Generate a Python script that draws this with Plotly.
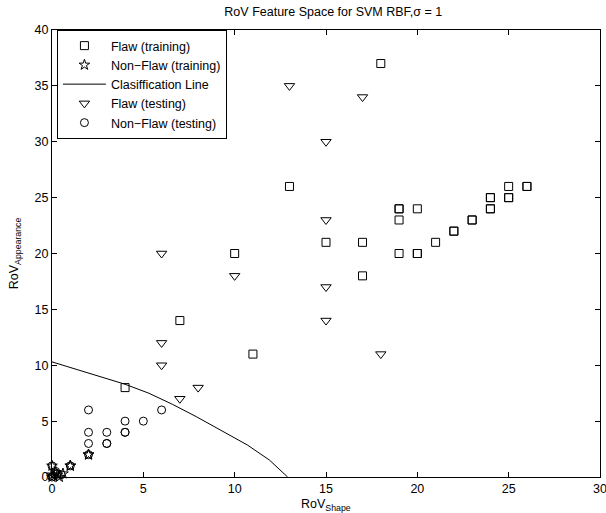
import plotly.graph_objects as go

# Flaw (training) - squares
flaw_train_x = [18, 13, 10, 7, 11, 4, 15, 17, 17, 19, 19, 20, 19, 19, 20, 20, 21, 22, 22, 23, 23, 24, 24, 24, 24, 25, 25, 25, 26, 26]
flaw_train_y = [37, 26, 20, 14, 11, 8, 21, 21, 18, 24, 24, 24, 23, 20, 20, 20, 21, 22, 22, 23, 23, 24, 24, 25, 25, 25, 25, 26, 26, 26]

# Non-Flaw (training) - stars
nonflaw_train_x = [2, 2, 1, 1, 0, 0, 0.1, 0.3, 0.2, 0.6, 0.4, 0.0]
nonflaw_train_y = [2, 2, 1, 1, 1, 0, 0.1, 0.2, 0.4, 0.3, 0.0, 0.2]

# Classification line
line_x = [0, 2, 4, 5.3, 6.6, 7.9, 9.4, 10.7, 11.9, 12.9]
line_y = [10.3, 9.3, 8.3, 7.5, 6.5, 5.4, 4.05, 2.86, 1.52, 0]

# Flaw (testing) - triangles
flaw_test_x = [13, 17, 15, 15, 6, 10, 15, 15, 6, 18, 6, 8, 7]
flaw_test_y = [35, 34, 30, 23, 20, 18, 17, 14, 12, 11, 10, 8, 7]

# Non-Flaw (testing) - circles
nonflaw_test_x = [2, 6, 4, 5, 2, 3, 4, 4, 2, 3, 3, 2, 1, 0, 0, 0.3, 0.5, 0.2]
nonflaw_test_y = [6, 6, 5, 5, 4, 4, 4, 4, 3, 3, 3, 2, 1, 1, 0, 0.3, 0.2, 0.5]

x_ticks = [0, 5, 10, 15, 20, 25, 30]
y_ticks = [0, 5, 10, 15, 20, 25, 30, 35, 40]

FS = 12.5
font = dict(family="Liberation Sans, Arial, sans-serif", size=FS, color="black")

fig = go.Figure()
fig.add_trace(go.Scatter(x=flaw_train_x, y=flaw_train_y, mode="markers", name="Flaw (training)",
                         marker=dict(symbol="square-open", size=8, color="black", line=dict(width=1)),
                         cliponaxis=False))
fig.add_trace(go.Scatter(x=nonflaw_train_x, y=nonflaw_train_y, mode="markers", name="Non\u2212Flaw (training)",
                         marker=dict(symbol="star-open", size=8, color="black", line=dict(width=1)),
                         cliponaxis=False))
fig.add_trace(go.Scatter(x=line_x, y=line_y, mode="lines", name="Clasiffication Line",
                         line=dict(color="black", width=1)))
fig.add_trace(go.Scatter(x=flaw_test_x, y=flaw_test_y, mode="markers", name="Flaw (testing)",
                         marker=dict(symbol="triangle-down-open", size=9, color="black", line=dict(width=1)),
                         cliponaxis=False))
fig.add_trace(go.Scatter(x=nonflaw_test_x, y=nonflaw_test_y, mode="markers", name="Non\u2212Flaw (testing)",
                         marker=dict(symbol="circle-open", size=8, color="black", line=dict(width=1)),
                         cliponaxis=False))

axis_common = dict(showgrid=False, zeroline=False, showline=True, linecolor="black", linewidth=1,
                   mirror="ticks", ticks="inside", ticklen=5, tickcolor="black", tickfont=font,
                   automargin=False, ticklabeloverflow="allow")

fig.update_layout(
    width=606, height=513,
    margin=dict(l=52, r=6, t=30, b=36),
    paper_bgcolor="white", plot_bgcolor="white",
    font=font,
    title=dict(text="RoV Feature Space for SVM RBF,\u03c3 = 1", x=0.55, xanchor="center",
               y=1 - 12 / 513, yanchor="middle", font=font, automargin=False),
    xaxis=dict(range=[0, 30], tickvals=x_ticks, **axis_common),
    yaxis=dict(range=[0, 40], tickvals=y_ticks, **axis_common),
    legend=dict(x=0.009, y=1.0, xanchor="left", yanchor="top", bgcolor="white",
                bordercolor="black", borderwidth=1, font=font, tracegroupgap=0, itemwidth=43),
    showlegend=True,
    annotations=[
        dict(text="RoV<sub>Shape</sub>", xref="paper", yref="paper", x=0.5, y=-0.063,
             xanchor="center", yanchor="middle", showarrow=False, font=font),
        dict(text="RoV<sub>Appearance</sub>", xref="paper", yref="paper", x=-0.068, y=0.5,
             xanchor="center", yanchor="middle", showarrow=False, textangle=-90, font=font),
    ],
)

fig.write_html("out.html", config={"displayModeBar": False},
               post_script="document.body.style.margin='0';document.body.style.overflow='hidden';")
